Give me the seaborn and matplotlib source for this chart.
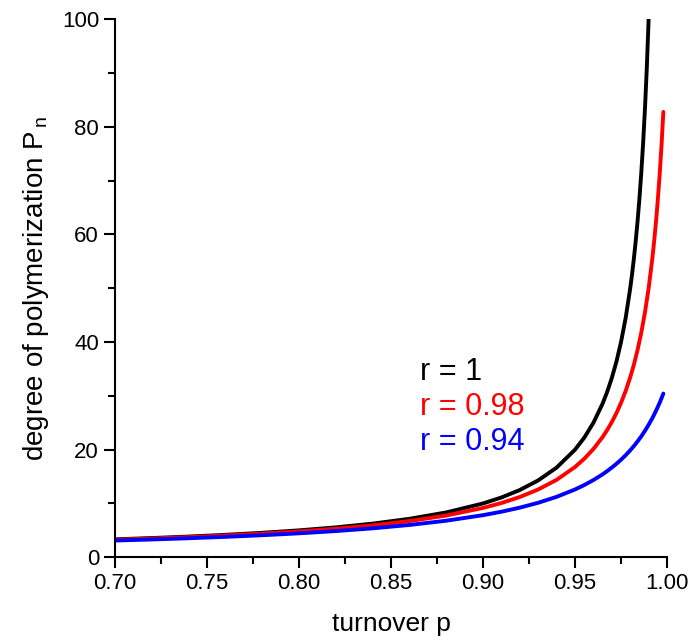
import seaborn as sns
import matplotlib.pyplot as plt
import pandas as pd
from matplotlib.ticker import MultipleLocator

# turnover grid for r = 1 (curve stops at Pn = 100)
p_r1 = [0.70, 0.72, 0.74, 0.76, 0.78, 0.80, 0.82, 0.84, 0.86, 0.88,
        0.90, 0.91, 0.92, 0.93, 0.94, 0.95, 0.955, 0.96, 0.965, 0.9675, 0.97,
        0.9725, 0.975, 0.9775, 0.98, 0.981, 0.982, 0.983, 0.984, 0.985, 0.986,
        0.987, 0.988, 0.989, 0.99]
pn_r1 = [3.333, 3.571, 3.846, 4.167, 4.545, 5.0, 5.556, 6.25, 7.143, 8.333,
         10.0, 11.11, 12.5, 14.29, 16.67, 20.0, 22.22, 25.0, 28.57, 30.77, 33.33,
         36.36, 40.0, 44.44, 50.0, 52.63, 55.56, 58.82, 62.5, 66.67, 71.43,
         76.92, 83.33, 90.91, 100.0]

# turnover grid for r = 0.98 and r = 0.94
p_grid = [0.70, 0.72, 0.74, 0.76, 0.78, 0.80, 0.82, 0.84, 0.86, 0.88,
          0.90, 0.91, 0.92, 0.93, 0.94, 0.95, 0.955, 0.96, 0.965, 0.9675, 0.97,
          0.9725, 0.975, 0.9775, 0.98, 0.982, 0.984, 0.986, 0.988, 0.99, 0.992,
          0.993, 0.994, 0.995, 0.996, 0.997, 0.998]
pn_r098 = [3.257, 3.481, 3.739, 4.038, 4.388, 4.806, 5.311, 5.935, 6.726, 7.759,
           9.167, 10.08, 11.20, 12.60, 14.39, 16.78, 18.30, 20.12, 22.35, 23.66, 25.13,
           26.79, 28.70, 30.89, 33.45, 35.82, 38.55, 41.74, 45.50, 50.0, 55.49,
           58.72, 62.34, 66.44, 71.12, 76.51, 82.78]
pn_r094 = [3.109, 3.308, 3.535, 3.795, 4.096, 4.450, 4.869, 5.377, 6.002, 6.793,
           7.823, 8.464, 9.221, 10.13, 11.23, 12.60, 13.42, 14.35, 15.42, 16.02, 16.67,
           17.37, 18.13, 18.96, 19.88, 20.67, 21.54, 22.47, 23.50, 24.62, 25.85,
           26.52, 27.22, 27.95, 28.73, 29.56, 30.43]

series = ['r = 1', 'r = 0.98', 'r = 0.94']
colors = ['black', 'red', 'blue']

df = pd.concat([
    pd.DataFrame({'p': p_r1, 'Pn': pn_r1, 'r': series[0]}),
    pd.DataFrame({'p': p_grid, 'Pn': pn_r098, 'r': series[1]}),
    pd.DataFrame({'p': p_grid, 'Pn': pn_r094, 'r': series[2]}),
])

sns.set_style('ticks')
plt.rcParams['font.family'] = ['Liberation Sans', 'DejaVu Sans']
plt.rcParams.update({'text.color': 'black', 'axes.labelcolor': 'black',
                     'xtick.color': 'black', 'ytick.color': 'black'})

fig = plt.figure(figsize=(6.97, 6.42), dpi=100)
ax = fig.add_axes([0.165, 0.132, 0.792, 0.838])

sns.lineplot(data=df, x='p', y='Pn', hue='r', palette=dict(zip(series, colors)),
             linewidth=2.8, legend=False, ax=ax, solid_capstyle='round')

ax.set_xlim(0.70, 1.00)
ax.set_ylim(0, 100)
ax.xaxis.set_major_locator(MultipleLocator(0.05))
ax.xaxis.set_minor_locator(MultipleLocator(0.025))
ax.yaxis.set_major_locator(MultipleLocator(20))
ax.yaxis.set_minor_locator(MultipleLocator(10))
ax.xaxis.set_major_formatter(plt.FormatStrFormatter('%.2f'))
ax.tick_params(which='major', length=8, width=1.5, labelsize=16, direction='out')
ax.tick_params(which='minor', length=5, width=1.5, direction='out')
for s in ['left', 'bottom']:
    ax.spines[s].set_linewidth(1.5)
    ax.spines[s].set_color('black')
sns.despine(ax=ax)

ax.set_xlabel('turnover p', fontsize=19, labelpad=13)
ax.set_ylabel(r'degree of polymerization P$_{\,\mathregular{n}}$', fontsize=20, labelpad=8)

# labels next to curves
ys = [32.9, 26.4, 19.9]
for lab, c, y in zip(series, colors, ys):
    ax.text(0.8655, y, lab, color=c, fontsize=22, va='baseline', ha='left')

plt.savefig('out.png', dpi=100)
